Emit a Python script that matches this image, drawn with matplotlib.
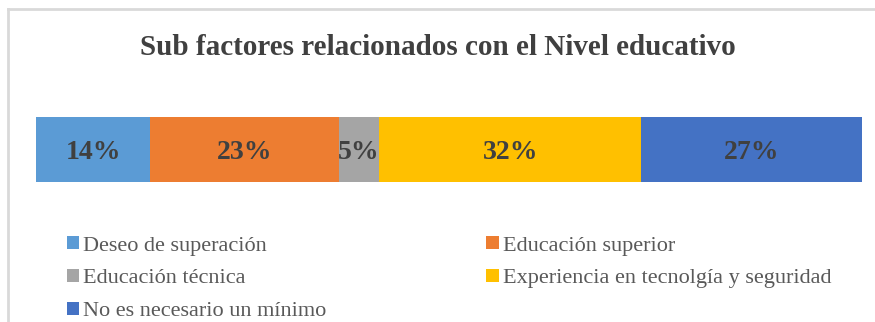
import matplotlib
matplotlib.use("Agg")
import matplotlib.pyplot as plt
from matplotlib.patches import Patch
from matplotlib.lines import Line2D

# data
categories = ["Deseo de superación", "Educación superior", "Educación técnica",
              "Experiencia en tecnolgía y seguridad", "No es necesario un mínimo"]
values = [14, 23, 5, 32, 27]
colors = ["#5B9BD5", "#ED7D31", "#A5A5A5", "#FFC000", "#4472C4"]

plt.rcParams["font.family"] = ["Liberation Serif", "DejaVu Serif"]

fig = plt.figure(figsize=(8.75, 3.22), dpi=100)
fig.patch.set_facecolor("white")

# light frame along the top and left
fig.add_artist(Line2D([0.009, 1.0], [0.972, 0.972], transform=fig.transFigure,
                      color="#d9d9d9", lw=2))
fig.add_artist(Line2D([0.009, 0.009], [0.0, 0.972], transform=fig.transFigure,
                      color="#d9d9d9", lw=2))

fig.text(0.5, 0.853, "Sub factores relacionados con el Nivel educativo",
         ha="center", va="center", fontsize=21, fontweight="bold", color="#404040")

ax = fig.add_axes([0.0411, 0.4348, 0.9440, 0.2018])
left = 0
for cat, v, c in zip(categories, values, colors):
    ax.barh(0, v, left=left, height=1.0, color=c, edgecolor="none")
    ax.text(left + v / 2, -0.05, f"{v}%", ha="center", va="center",
            fontsize=20, fontweight="bold", color="#404040")
    left += v
ax.set_xlim(0, sum(values))
ax.set_ylim(-0.5, 0.5)
ax.axis("off")

# legend, filled column by column
order = [0, 2, 4, 1, 3]
handles = [Patch(facecolor=colors[i], edgecolor="none") for i in order]
labels = [categories[i] for i in order]
fig.legend(handles, labels, ncol=2, loc="upper left",
           bbox_to_anchor=(0.076, 0.267), frameon=False,
           fontsize=16, labelcolor="#595959",
           handlelength=0.55, handleheight=0.55, handletextpad=0.2,
           columnspacing=7.2, labelspacing=0.6, borderaxespad=0, borderpad=0)

fig.savefig("out.png", dpi=100, facecolor="white")
